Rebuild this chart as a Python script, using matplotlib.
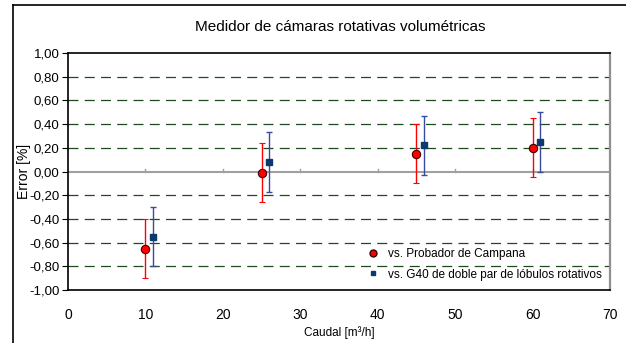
import matplotlib.pyplot as plt
from matplotlib.lines import Line2D
import matplotlib.font_manager as fm

names = {f.name for f in fm.fontManager.ttflist}
fam = 'Liberation Sans Narrow' if 'Liberation Sans Narrow' in names else 'Liberation Sans'
plt.rcParams['font.family'] = [fam, 'DejaVu Sans']

# data
x_campana = [10, 25, 45, 60]
err_campana = [-0.65, -0.01, 0.15, 0.20]
unc_campana = [0.25, 0.25, 0.25, 0.25]

x_g40 = [11, 26, 46, 61]
err_g40 = [-0.55, 0.08, 0.22, 0.25]
unc_g40 = [0.25, 0.25, 0.25, 0.25]

yticks = [-1.0, -0.8, -0.6, -0.4, -0.2, 0.0, 0.2, 0.4, 0.6, 0.8, 1.0]
xticks = [0, 10, 20, 30, 40, 50, 60, 70]

fig = plt.figure(figsize=(6.26, 3.43), dpi=100)
ax = fig.add_axes([68/626, 1-290/343, 542/626, 237/343])

# outer chart frame
fig.add_artist(Line2D([13/626, 13/626], [0, 1-5/343], color='black', lw=1.2))
fig.add_artist(Line2D([13/626, 1], [1-5/343, 1-5/343], color='black', lw=1.2))

for y in yticks:
    if y in (-1.0, 1.0, 0.0):
        continue
    ax.axhline(y, color='#1f4a1f', lw=0.9, ls=(0, (8, 5)), zorder=1)
ax.axhline(0, color='#a0a0a0', lw=1.5, zorder=1)
for xt in xticks[1:-1]:
    ax.plot([xt, xt], [0, 0.025], color='#a0a0a0', lw=1, zorder=1)

ax.errorbar(x_campana, err_campana, yerr=unc_campana, fmt='o', color='red',
            ms=6, mec='#400000', mew=0.8, ecolor='red', elinewidth=1,
            capsize=2.5, capthick=1, zorder=3, label='vs. Probador de Campana')
ax.errorbar(x_g40, err_g40, yerr=unc_g40, fmt='s', color='#0d3a6e',
            ms=4.5, mec='#0d3a6e', ecolor='#3b4a9c', elinewidth=1,
            capsize=2.5, capthick=1, zorder=3,
            label='vs. G40 de doble par de lóbulos rotativos')

ax.set_xlim(0, 70)
ax.set_ylim(-1, 1)
ax.set_xticks(xticks)
ax.set_yticks(yticks)
ax.set_yticklabels([f'{v:.2f}'.replace('.', ',') for v in yticks])
ax.tick_params(axis='x', length=0, pad=13, labelsize=10)
ax.tick_params(axis='y', length=4, direction='out', labelsize=9.5, pad=2)

for s in ['top', 'left', 'bottom']:
    ax.spines[s].set_color('black')
    ax.spines[s].set_linewidth(1.2)
ax.spines['right'].set_color('#909090')
ax.spines['right'].set_linewidth(1.6)

ax.set_ylabel('Error [%]', fontsize=10, labelpad=-1)
ax.set_xlabel('Caudal [m³/h]', fontsize=8.5, labelpad=3)
fig.text(340/626, 1-27/343, 'Medidor de cámaras rotativas volumétricas',
         fontsize=11, ha='center', va='center')

h, l = ax.get_legend_handles_labels()
h = [Line2D([], [], marker='o', color='red', mec='#400000', ls='', ms=5),
     Line2D([], [], marker='s', color='#0d3a6e', ls='', ms=3.5)]
ax.legend(h, l, loc='lower right', frameon=False, fontsize=8.5,
          handletextpad=0.5, labelspacing=0.75, handlelength=1.5,
          bbox_to_anchor=(1.005, -0.005))

fig.savefig('out.png', dpi=100)
